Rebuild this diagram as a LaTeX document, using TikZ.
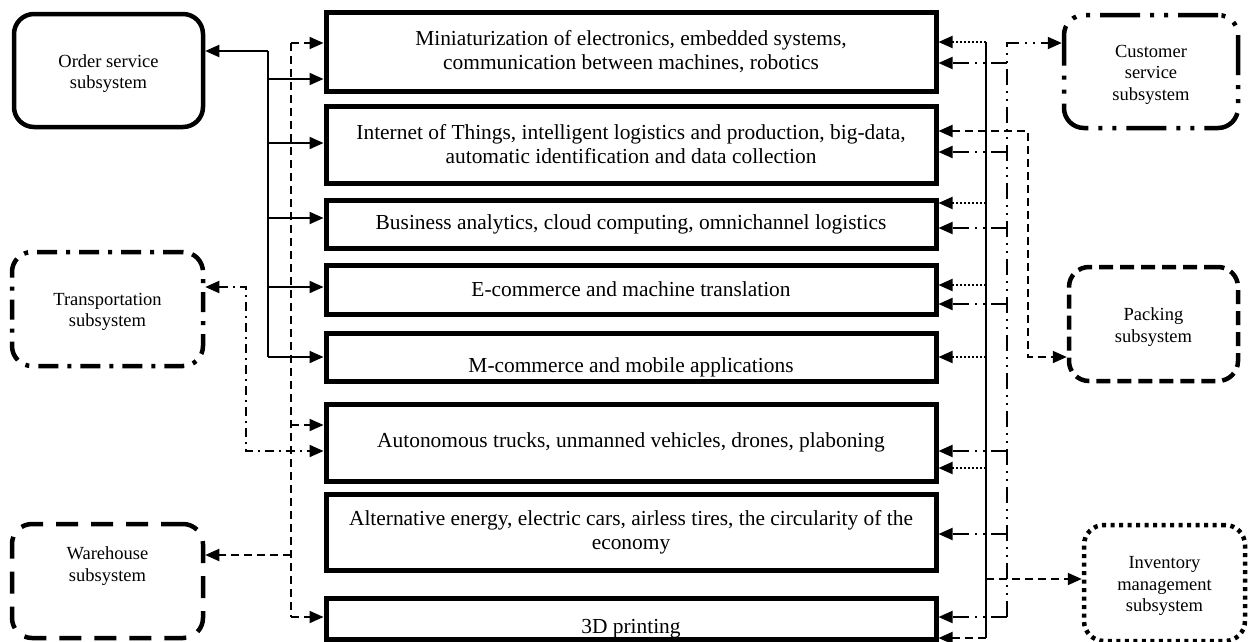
\documentclass[tikz,border=0pt]{standalone}
\usepackage{fontspec}
\setmainfont{Liberation Serif}
\usetikzlibrary{arrows.meta}
\begin{document}
\begin{tikzpicture}[x=1pt,y=-1pt,
  cfont/.style={align=center, font=\fontsize{21.4}{24}\selectfont},
  cbox/.style={draw, line width=5pt, minimum width=610pt, inner sep=0pt, cfont},
  sfont/.style={align=center, font=\fontsize{18.5}{21.5}\selectfont},
  sbox/.style={draw, line width=4.5pt, rounded corners=20pt, inner sep=0pt},
  stext/.style={label={[sfont, yshift=-3pt]center:#1}},
  con/.style={line width=2pt},
  tip/.style={-{Triangle[length=14pt,width=12pt]}},
  tips/.style={{Triangle[length=14pt,width=12pt]}-{Triangle[length=14pt,width=12pt]}},
  dotc/.style={dash pattern=on 2pt off 2pt},
  dshc/.style={dash pattern=on 8pt off 5pt},
  ddc/.style={dash pattern=on 9pt off 5pt on 2pt off 5pt},
  dddc/.style={dash pattern=on 16pt off 6pt on 2pt off 6pt on 2pt off 6pt},
]
\useasboundingbox (0,0) rectangle (1248,641);
\begin{scope}
\clip (0,0) rectangle (1248,641);
% central boxes
\node[cbox, minimum height=79pt] (B1) at (631,51.5) {Miniaturization of electronics, embedded systems,\\communication between machines, robotics};
\node[cbox, minimum height=77pt] (B2) at (631,144.5) {Internet of Things, intelligent logistics and production, big-data,\\automatic identification and data collection};
\node[cbox, minimum height=48pt] (B3) at (631,224) {Business analytics, cloud computing, omnichannel logistics};
\node[cbox, minimum height=49pt] (B4) at (631,289.5) {E-commerce and machine translation};
\node[cbox, minimum height=48pt, label={[cfont, yshift=-10pt]center:M-commerce and mobile applications}] (B5) at (631,357) {};
\node[cbox, minimum height=77pt] (B6) at (631,442.5) {Autonomous trucks, unmanned vehicles, drones, plaboning};
\node[cbox, minimum height=76pt] (B7) at (631,532) {Alternative energy, electric cars, airless tires, the circularity of the\\economy};
\node[cbox, minimum height=41pt, label={[cfont, yshift=-10pt]center:3D printing}] (B8) at (631,618.5) {};
% side boxes
\node[sbox, minimum width=189pt, minimum height=113pt, stext={Order service\\subsystem}] (Ord) at (108.5,70.5) {};
\node[sbox, minimum width=191pt, minimum height=114pt, dash pattern=on 20pt off 9pt on 4pt off 9pt, stext={Transportation\\subsystem}] (Tr) at (107.5,309) {};
\node[sbox, minimum width=191pt, minimum height=114pt, dash pattern=on 22pt off 13pt,
  label={[sfont, yshift=15pt]center:Warehouse\\subsystem}] (Wh) at (107.5,581) {};
\node[sbox, minimum width=174pt, minimum height=113pt, dash pattern=on 40pt off 10pt on 4pt off 10pt on 4pt off 10pt, stext={Customer\\service\\subsystem}] (Cu) at (1151,71.5) {};
\node[sbox, minimum width=169pt, minimum height=114pt, dash pattern=on 14pt off 7pt, stext={Packing\\subsystem}] (Pk) at (1153.5,324) {};
\node[sbox, minimum width=161pt, minimum height=116pt, dash pattern=on 4pt off 4.5pt, stext={Inventory\\management\\subsystem}] (Inv) at (1164.5,583) {};
% ---- left connectors ----
\coordinate (oTop) at (268,51);
\coordinate (oBot) at (268,357);
\draw[con,tip] (oTop) -- (Ord.east |- oTop);
\draw[con] (oTop) -- (oBot);
\foreach \b/\y in {B1/79,B2/143,B3/218,B4/287,B5/357}
  \draw[con,tip] (268,\y) -- (\b.west |- 0,\y);
% warehouse dashed
\coordinate (wTop) at (291,43);
\coordinate (wBot) at (291,617);
\draw[con,dshc] (wTop) -- (wBot);
\draw[con,dshc,tip] (wTop) -- (B1.west |- wTop);
\draw[con,dshc,tip] (291,425) -- (B6.west |- 0,425);
\draw[con,dshc,tip] (291,555) -- (Wh.east |- 0,555);
\draw[con,dshc,tip] (wBot) -- (B8.west |- wBot);
% transportation dash-dot
\draw[con,ddc,tips] (Tr.east |- 0,287) -- (246,287) -- (246,451) -- (B6.west |- 0,451);
% ---- right connectors ----
\coordinate (sTop) at (986,42);
\coordinate (sBot) at (986,638);
\draw[con] (sTop) -- (sBot);
\foreach \b/\y in {B1/42,B3/203,B4/285,B5/357,B6/468}
  \draw[con,dotc,tip] (986,\y) -- (\b.east |- 0,\y);
\draw[con,dshc,tips] (B2.east |- 0,131) -- (1028,131) -- (1028,357) -- (Pk.west |- 0,357);
\draw[con,dshc,tip] (986,579) -- (Inv.west |- 0,579);
\draw[con,dshc,tip] (sBot) -- (B8.east |- sBot);
% customer dash-dot-dot
\coordinate (cTop) at (1007,43);
\coordinate (cBot) at (1007,617);
\draw[con,dddc,tip] (cBot) -- (cTop) -- (Cu.west |- cTop);
\foreach \b/\y in {B1/63,B2/152,B3/228,B4/304,B6/451,B7/534,B8/617}
  \draw[con,dddc,tip] (1007,\y) -- (\b.east |- 0,\y);
\end{scope}
\end{tikzpicture}
\end{document}
